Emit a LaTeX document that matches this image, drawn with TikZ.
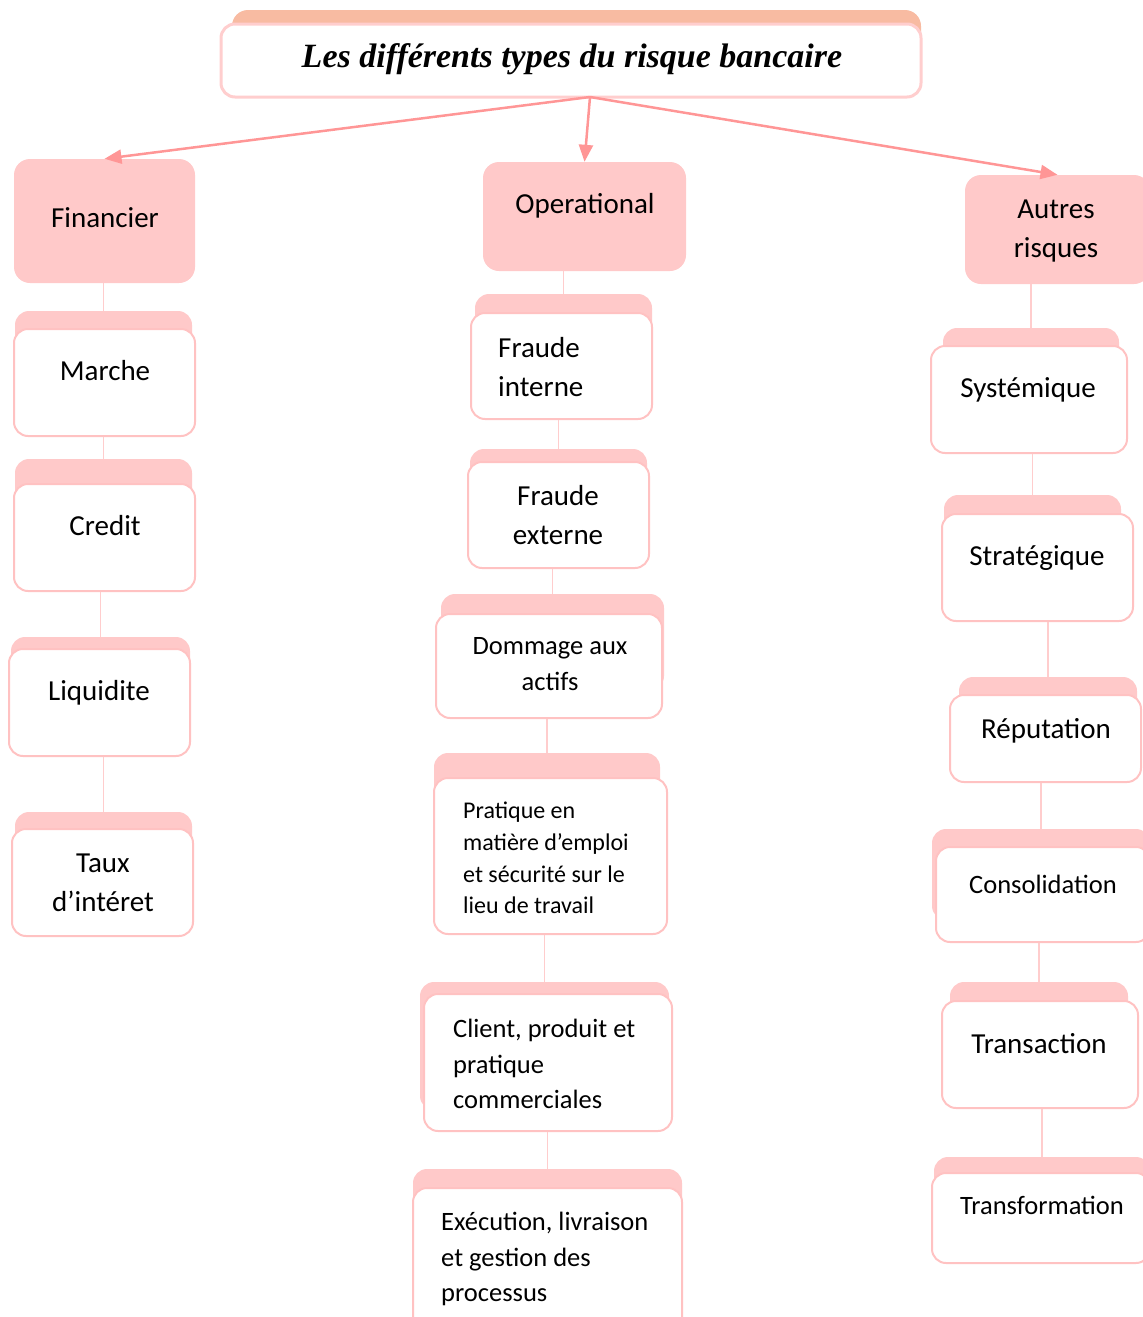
\documentclass[tikz,border=0pt]{standalone}
\usepackage{fontspec}
\setmainfont{Carlito}
\newfontfamily\titlefont{Liberation Serif}
\usetikzlibrary{fit,arrows.meta}

\definecolor{headpink}{RGB}{255,201,201}
\definecolor{tabpink}{RGB}{255,201,201}
\definecolor{titletab}{RGB}{248,187,162}
\definecolor{edgepink}{RGB}{255,194,194}
\definecolor{arrowpink}{RGB}{255,150,150}
\definecolor{linkpink}{RGB}{255,205,205}

% back tab + white front box
\newcommand{\riskbox}[3]{%
  \node[tabbox, fit={#2}] (#1-tab) {};
  \node[frontbox, fit={#3}] (#1) {};
}

\begin{document}
\begin{tikzpicture}[x=1pt, y=-1pt,
    headbox/.style={fill=headpink, rounded corners=16pt, inner sep=0pt},
    tabbox/.style={fill=tabpink, rounded corners=14pt, inner sep=0pt},
    frontbox/.style={draw=edgepink, line width=2pt, fill=white, rounded corners=14pt, inner sep=0pt},
    txt/.style={font=\fontsize{29}{38.5}\selectfont, align=center, inner sep=0pt},
    smalltxt/.style={font=\fontsize{26.5}{35.5}\selectfont},
    tinytxt/.style={font=\fontsize{24}{31.7}\selectfont},
    link/.style={draw=linkpink, line width=1.5pt},
    riskarrow/.style={draw=arrowpink, line width=2.5pt, -{Triangle[length=17pt,width=14pt]}}]
    \useasboundingbox (0,0) rectangle (1143,1317);

    % title
    \node[fit={(232,10) (921,70)}, fill=titletab, rounded corners=16pt, inner sep=0pt] (title-tab) {};
    \node[frontbox, draw=edgepink!80, line width=3pt, fit={(221,24) (921,97)}] (title) {};
    \node[inner sep=0pt, font=\titlefont\bfseries\itshape\fontsize{34}{40}\selectfont] (titletxt) at (572,59) {Les différents types du risque bancaire};

    % the three families
    \node[headbox, fit={(14,159) (195,283)}] (financier) {};
    \node[txt] (financiertxt) at (105,218) {Financier};
    \node[headbox, fit={(483,162) (686,271)}] (operational) {};
    \node[txt] (operationaltxt) at (585,206) {Operational};
    \node[headbox, fit={(965,175) (1150,284)}] (autres) {};
    \node[txt] (autrestxt) at (1056,231) {Autres\\risques};

    \coordinate (root) at (590,97);
    \draw[riskarrow] (root) -- (financier.north);
    \draw[riskarrow] (root) -- (operational.north);
    \draw[riskarrow] (root) -- (autres.north);

    % Financier
    \riskbox{marche}{(15,311) (192,420)}{(14,329) (195,436)}
    \node[txt] (marchetxt) at (105,371) {Marche};
    \riskbox{credit}{(15,459) (192,570)}{(14,484) (195,591)}
    \node[txt] (credittxt) at (105,526) {Credit};
    \riskbox{liquidite}{(11,637) (190,740)}{(9,649) (190,756)}
    \node[txt] (liquiditetxt) at (99,693) {Liquidite};
    \riskbox{taux}{(15,812) (192,920)}{(12,829) (193,936)}
    \node[txt] (tauxtxt) at (103,883) {Taux\\d’intéret};

    % Operational
    \riskbox{interne}{(475,294) (652,400)}{(471,313) (652,419)}
    \node[txt, align=left, anchor=west] (internetxt) at (498,367) {Fraude\\interne};
    \riskbox{externe}{(470,449) (647,550)}{(468,462) (649,568)}
    \node[txt] (externetxt) at (558,515) {Fraude\\externe};
    \riskbox{dommage}{(441,594) (664,690)}{(436,614) (662,718)}
    \node[txt, smalltxt] (dommagetxt) at (550,664) {Dommage aux\\actifs};
    \riskbox{pratique}{(434,753) (660,900)}{(434,778) (667,934)}
    \node[txt, tinytxt, align=left, anchor=west] (pratiquetxt) at (463,858)
        {Pratique en\\matière d’emploi\\et sécurité sur le\\lieu de travail};
    \riskbox{client}{(420,982) (669,1110)}{(424,994) (672,1131)}
    \node[txt, smalltxt, align=left, anchor=west] (clienttxt) at (453,1064)
        {Client, produit et\\pratique\\commerciales};
    \riskbox{execution}{(413,1169) (682,1300)}{(413,1188) (682,1340)}
    \node[txt, smalltxt, align=left, anchor=west] (executiontxt) at (441,1259)
        {Exécution, livraison\\et gestion des\\processus};

    % Autres risques
    \riskbox{systemique}{(943,328) (1119,430)}{(931,346) (1127,453)}
    \node[txt] (systemiquetxt) at (1028,390) {Systémique};
    \riskbox{strategique}{(944,495) (1121,600)}{(942,514) (1133,621)}
    \node[txt] (strategiquetxt) at (1037,558) {Stratégique};
    \riskbox{reputation}{(959,677) (1137,760)}{(950,695) (1141,782)}
    \node[txt] (reputationtxt) at (1046,731) {Réputation};
    \riskbox{consolidation}{(932,829) (1150,920)}{(936,847) (1150,942)}
    \node[txt, smalltxt] (consolidationtxt) at (1043,884) {Consolidation};
    \riskbox{transaction}{(950,982) (1128,1090)}{(942,1001) (1138,1108)}
    \node[txt] (transactiontxt) at (1039,1044) {Transaction};
    \riskbox{transformation}{(934,1157) (1150,1240)}{(932,1173) (1150,1263)}
    \node[txt, smalltxt] (transformationtxt) at (1042,1205) {Transformation};

    % vertical links
    \foreach \a/\b in {financier/marche, marche/credit, credit/liquidite, liquidite/taux,
                       operational/interne, interne/externe, externe/dommage, dommage/pratique,
                       pratique/client, client/execution,
                       autres/systemique, systemique/strategique, strategique/reputation,
                       reputation/consolidation, consolidation/transaction, transaction/transformation}
        \draw[link] (\b-tab.north) -- (\b-tab.north |- \a.south);
\end{tikzpicture}
\end{document}
